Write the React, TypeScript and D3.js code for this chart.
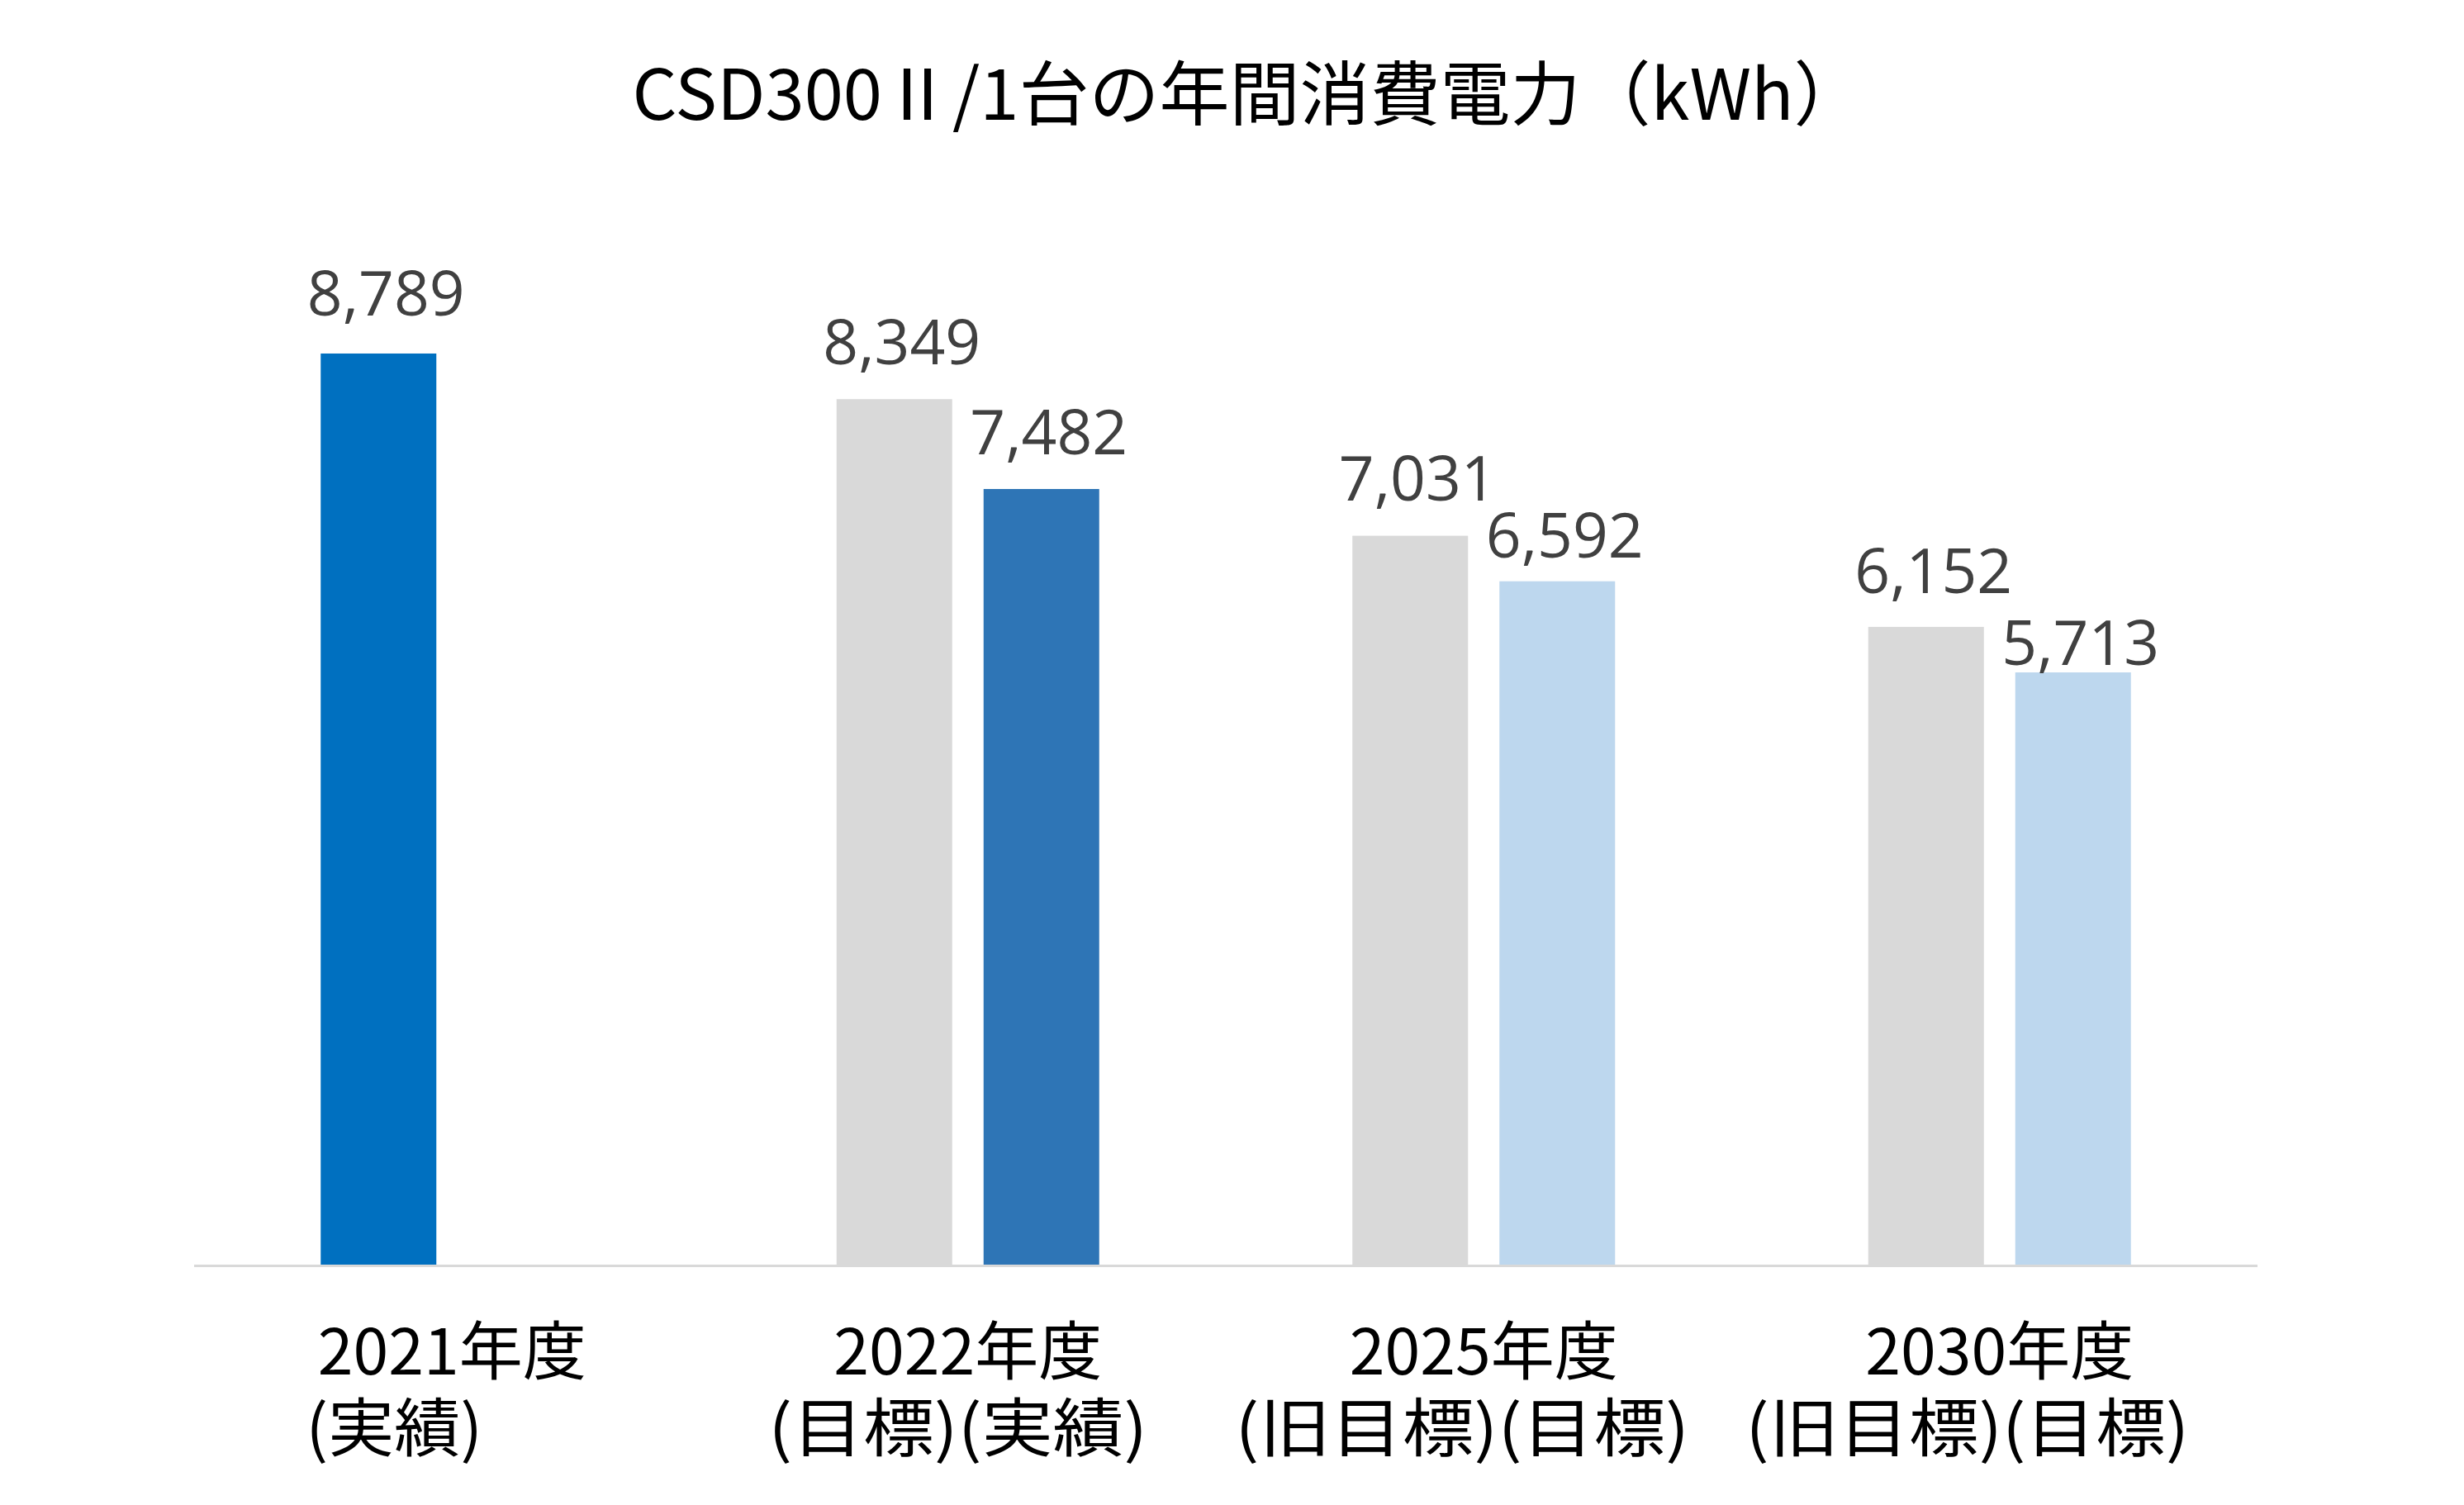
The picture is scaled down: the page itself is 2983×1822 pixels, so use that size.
import React, { useEffect } from "react";
import * as d3 from "d3";

const W = 2983;
const H = 1822;

const titleText = "CSD300Ⅱ/1台の年間消費電力（kWh）";
const categories = ["2021年度", "2022年度", "2025年度", "2030年度"];
const subLabels = ["(実績)", "(目標)(実績)", "(旧目標)(目標)", "(旧目標)(目標)"];
const seriesKeys = ["first", "second"];
const firstValues: (number | null)[] = [8789, 8349, 7031, 6152];
const secondValues: (number | null)[] = [null, 7482, 6592, 5713];
const firstColors = ["#0070C0", "#D9D9D9", "#D9D9D9", "#D9D9D9"];
const secondColors = ["", "#2E75B6", "#BDD7EE", "#BDD7EE"];

// label layout tweaks (gap between bar top and label baseline)
const firstLabelGaps = [46, 42, 43, 41];
const secondLabelGaps = [0, 42, 29, 9];
// sublabel centre offsets and widths
const subOffsets = [-70, -12, -26, -39];
const subWidths = [214, 459, 550, 537];

const fmt = d3.format(",");

export default function App() {
  useEffect(() => {
    document.body.style.margin = "0";
  }, []);

  const x = d3.scaleBand<string>().domain(categories).range([235, 2733]).paddingInner(0).paddingOuter(0);
  const xs = d3
    .scaleBand<string>()
    .domain(seriesKeys)
    .range([0, x.bandwidth()])
    .paddingInner(38 / 178)
    .paddingOuter(0.861);
  const y = d3.scaleLinear().domain([0, 10000]).range([1531, 276]);

  const bars: { key: string; x: number; y: number; w: number; h: number; fill: string; v: number; gap: number }[] = [];
  categories.forEach((c, i) => {
    const a = firstValues[i];
    if (a != null) {
      bars.push({
        key: "a" + i,
        x: (x(c) as number) + (xs("first") as number),
        y: y(a),
        w: xs.bandwidth(),
        h: y(0) - y(a),
        fill: firstColors[i],
        v: a,
        gap: firstLabelGaps[i],
      });
    }
    const b = secondValues[i];
    if (b != null) {
      bars.push({
        key: "b" + i,
        x: (x(c) as number) + (xs("second") as number),
        y: y(b),
        w: xs.bandwidth(),
        h: y(0) - y(b),
        fill: secondColors[i],
        v: b,
        gap: secondLabelGaps[i],
      });
    }
  });

  const cjk = "'Noto Sans CJK JP', 'Noto Sans', sans-serif";

  return (
    <svg width={W} height={H} viewBox={`0 0 ${W} ${H}`} style={{ display: "block", background: "#fff" }}>
      <rect x={0} y={0} width={W} height={H} fill="#ffffff" />
      <text x={1511} y={145} textAnchor="middle" fontFamily={cjk} fontSize={85} fill="#000">
        {titleText}
      </text>
      {bars.map((b) => (
        <rect key={b.key} x={b.x} y={b.y} width={b.w} height={b.h} fill={b.fill} />
      ))}
      <line x1={235} x2={2733} y1={1532.5} y2={1532.5} stroke="#D9D9D9" strokeWidth={3} />
      {bars.map((b) => (
        <text
          key={"l" + b.key}
          x={b.x + b.w / 2 + 9}
          y={b.y - b.gap}
          textAnchor="middle"
          fontFamily="'Open Sans', 'Noto Sans', sans-serif"
          fontSize={75}
          fill="#404040"
        >
          {fmt(b.v)}
        </text>
      ))}
      {categories.map((c, i) => {
        const cx = (x(c) as number) + x.bandwidth() / 2;
        return (
          <g key={"c" + i} fontFamily={cjk} fontSize={77} fill="#000">
            <text x={cx} y={1664} textAnchor="middle">
              {c}
            </text>
            <text
              x={cx + subOffsets[i]}
              y={1757}
              textAnchor="middle"
              textLength={subWidths[i]}
              lengthAdjust="spacingAndGlyphs"
            >
              {subLabels[i]}
            </text>
          </g>
        );
      })}
    </svg>
  );
}
